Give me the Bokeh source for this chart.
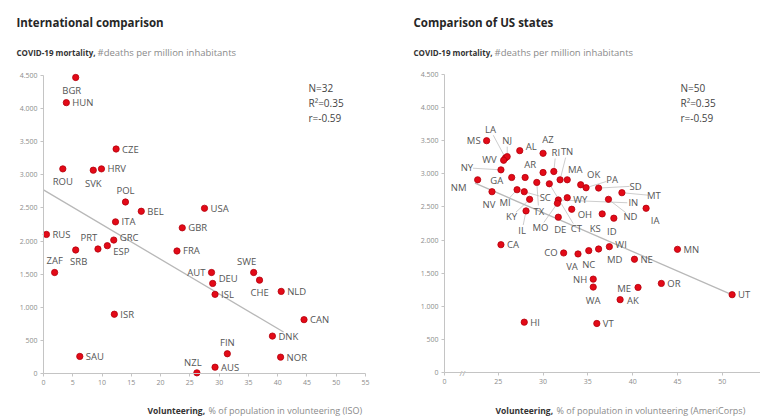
import numpy as np
from bokeh.plotting import figure
from bokeh.models import ColumnDataSource, Range1d, FixedTicker, Label, LinearAxis
from bokeh.layouts import row
from bokeh.embed import file_html
from bokeh.resources import INLINE
from bokeh.core.properties import value

# ---------------- International comparison ----------------
intl_codes = ["BGR", "HUN", "CZE", "ROU", "SVK", "HRV", "POL", "BEL", "ITA", "GBR",
              "RUS", "USA", "PRT", "SRB", "ESP", "GRC", "ZAF", "ISR", "SAU", "FRA",
              "NZL", "AUT", "DEU", "ISL", "SWE", "CHE", "NLD", "CAN", "DNK", "FIN",
              "NOR", "AUS"]
intl_volunteering = [5.5, 3.9, 12.4, 3.3, 8.5, 9.9, 14.0, 16.7, 12.3, 23.7,
                     0.5, 27.5, 9.3, 5.5, 10.9, 12.0, 1.9, 12.1, 6.2, 22.8,
                     26.2, 28.7, 28.9, 29.3, 35.9, 36.9, 40.6, 44.5, 39.1, 31.4,
                     40.5, 29.3]
intl_mortality = [4470, 4090, 3390, 3090, 3070, 3090, 2590, 2450, 2290, 2200,
                  2100, 2495, 1880, 1865, 1930, 2015, 1525, 895, 258, 1850,
                  10, 1525, 1360, 1195, 1525, 1410, 1240, 813, 565, 298,
                  247, 95]
intl_stats = ["N=32", "R²=0.35", "r=-0.59"]
intl_trend_x = [0, 41]
intl_trend_y = [2772, 626]
intl_x_ticks = [0, 5, 10, 15, 20, 25, 30, 35, 40, 45, 50, 55]
intl_x_tick_labels = ["0", "5", "10", "15", "20", "25", "30", "35", "40", "45", "50", "55"]

# ---------------- US states ----------------
us_codes = ["MS", "LA", "NJ", "WV", "AL", "AZ", "NY", "NM", "GA", "AR",
            "FL", "RI", "TN", "MA", "TX", "CT", "NV", "MI", "SC", "KY",
            "IL", "IN", "MO", "WY", "OH", "DE", "OK", "PA", "SD", "ND",
            "MT", "KS", "ID", "IA", "CA", "CO", "VA", "NC", "MD", "WI",
            "NE", "MN", "NH", "WA", "ME", "AK", "OR", "UT", "VT", "HI"]
us_volunteering = [23.7, 25.8, 26.0, 25.6, 27.4, 30.0, 25.3, 22.7, 26.5, 28.0,
                   30.0, 31.2, 31.9, 32.7, 29.3, 30.7, 24.3, 27.1, 27.9, 28.5,
                   28.1, 31.7, 31.6, 32.7, 33.2, 31.7, 34.2, 34.8, 36.2, 37.3,
                   38.8, 36.6, 37.9, 41.5, 25.3, 32.3, 33.9, 35.1, 36.2, 37.4,
                   40.2, 45.0, 35.6, 35.6, 40.6, 38.6, 43.2, 51.1, 36.0, 27.9]
us_mortality = [3500, 3240, 3260, 3205, 3350, 3310, 3060, 2910, 2945, 2945,
                3020, 3035, 2910, 2910, 2870, 2850, 2730, 2760, 2730, 2615,
                2440, 2605, 2555, 2640, 2465, 2345, 2835, 2790, 2785, 2615,
                2715, 2395, 2330, 2480, 1930, 1805, 1790, 1840, 1865, 1900,
                1710, 1860, 1410, 1290, 1285, 1100, 1345, 1175, 740, 760]
us_stats = ["N=50", "R²=0.35", "r=-0.59"]
us_trend_x = [22.4, 50.8]
us_trend_y = [2860, 1192]
us_x_ticks = [19, 25, 30, 35, 40, 45, 50, 55]
us_x_tick_labels = ["0", "25", "30", "35", "40", "45", "50", "55"]
us_axis_break_x = 21.0

y_ticks = [0, 500, 1000, 1500, 2000, 2500, 3000, 3500, 4000, 4500]
y_tick_labels = ["0", "500", "1.000", "1.500", "2.000", "2.500", "3.000", "3.500", "4.000", "4.500"]

# ---------------- label layout (screen px: align, dx, dy(down), leader) ----------------
intl_label_pos = {
    "BGR": ("c", -4, 13), "HUN": ("l", 6, 0), "CZE": ("l", 6, 0), "ROU": ("c", 0, 13),
    "SVK": ("c", 0, 13), "HRV": ("l", 6, 0), "POL": ("c", 0, -11), "BEL": ("l", 6, 0),
    "ITA": ("l", 6, 0), "GBR": ("l", 6, 0), "RUS": ("l", 6, 0), "USA": ("l", 6, 0),
    "PRT": ("c", -9, -12), "SRB": ("c", 3, 12), "ESP": ("l", 6, 6), "GRC": ("l", 6, -3),
    "ZAF": ("c", 0, -12), "ISR": ("l", 6, 0), "SAU": ("l", 6, 0), "FRA": ("l", 6, 0),
    "NZL": ("c", -4, -10), "AUT": ("r", -6, 0), "DEU": ("l", 6, -5), "ISL": ("l", 6, 0),
    "SWE": ("c", -7, -11), "CHE": ("c", 0, 12), "NLD": ("l", 6, 0), "CAN": ("l", 6, 0),
    "DNK": ("l", 6, 0), "FIN": ("c", 0, -11), "NOR": ("l", 6, 0), "AUS": ("l", 6, 0),
}
us_label_pos = {
    "MS": ("r", -6, 0), "LA": ("c", -15, -28, True), "NJ": ("c", 0, -16, True),
    "WV": ("r", -7, -1), "AL": ("l", 6, -4), "AZ": ("c", 5, -14),
    "NY": ("c", -34, -2, True), "NM": ("c", -19, 8), "GA": ("c", -15, 3),
    "AR": ("c", 5, -13), "RI": ("c", 2, -19, True), "TN": ("c", 7, -28, True),
    "MA": ("c", 8, -10), "TX": ("c", 2, 29, True), "CT": ("c", 27, 45, True),
    "NV": ("c", -3, 13), "MI": ("c", -12, 13, True), "SC": ("c", 21, 6, True),
    "KY": ("c", -18, 17, True), "IL": ("c", -4, 20, True), "IN": ("c", 75, 3, True),
    "MO": ("c", -17, 24, True), "WY": ("l", 6, 2), "OH": ("l", 6, 5),
    "DE": ("c", 2, 12), "OK": ("c", 13, -10), "PA": ("c", 26, -8, True),
    "SD": ("c", 37, -2, True), "ND": ("c", 22, 17, True), "MT": ("c", 32, 3, True),
    "KS": ("c", -7, 15), "ID": ("c", -2, 13), "IA": ("c", 9, 12),
    "CA": ("l", 6, 0), "CO": ("r", -6, 0), "VA": ("c", -6, 13), "NC": ("c", 0, 14),
    "MD": ("c", 16, 11), "WI": ("l", 6, -2), "NE": ("l", 6, 0), "MN": ("l", 6, 0),
    "NH": ("r", -6, 0), "WA": ("c", 0, 13), "ME": ("r", -7, 1), "AK": ("l", 7, 1),
    "OR": ("l", 6, 0), "UT": ("l", 6, 0), "VT": ("l", 6, 0), "HI": ("l", 6, 0),
}

FONT = "Open Sans"
RED = "#e30a17"
DOT_LINE = "#b4000c"
LABEL_C = "#555555"
AXIS_C = "#c4c4c4"
TICK_C = "#8c8c8c"
FIG_W, FIG_H = 380, 416
SY = 298.0 / 4500.0   # px per death/million


def make_panel(codes, xv, yv, label_pos, sx, x_axis_val, axis_px, y0_px, xt, xtl, x_bounds,
               title, tx, sub_gap, xt_px, xt_gap, xt_rest, stats, stats_px,
               trend_x, trend_y, axis_break=None):
    x0 = x_axis_val - axis_px / sx
    x1 = x0 + FIG_W / sx
    y1 = y0_px / SY
    y0 = y1 - FIG_H / SY
    p = figure(frame_width=FIG_W, frame_height=FIG_H, x_range=Range1d(x0, x1),
               y_range=Range1d(y0, y1), output_backend="svg", toolbar_location=None,
               x_axis_location=None, y_axis_location=None,
               min_border_left=0, min_border_right=0, min_border_top=0, min_border_bottom=0)
    p.outline_line_color = None
    p.grid.visible = False
    p.background_fill_color = "white"
    p.border_fill_color = "white"

    xaxis = LinearAxis(fixed_location=0, ticker=FixedTicker(ticks=xt), bounds=x_bounds)
    yaxis = LinearAxis(fixed_location=x_axis_val, ticker=FixedTicker(ticks=y_ticks),
                       bounds=(0, 4500))
    xaxis.major_label_overrides = {t: l for t, l in zip(xt, xtl)}
    yaxis.major_label_overrides = {t: l for t, l in zip(y_ticks, y_tick_labels)}
    for ax in (xaxis, yaxis):
        ax.axis_line_color = AXIS_C
        ax.major_tick_line_color = AXIS_C
        ax.minor_tick_line_color = None
        ax.major_tick_out = 3
        ax.major_tick_in = 0
        ax.major_label_text_font = FONT
        ax.major_label_text_font_size = "7px"
        ax.major_label_text_color = TICK_C
        ax.major_label_standoff = 3
    p.add_layout(xaxis, "below")
    p.add_layout(yaxis, "left")

    def px2data(px, py):
        return x0 + px / sx, y1 - py / SY

    # leader lines
    lx0, ly0, lx1, ly1 = [], [], [], []
    groups = {"l": ([], [], [], [], []), "r": ([], [], [], [], []), "c": ([], [], [], [], [])}
    for c, x, y in zip(codes, xv, yv):
        spec = label_pos.get(c)
        if spec is None:
            continue
        al, dx, dy = spec[0], spec[1], spec[2]
        g = groups[al]
        g[0].append(x); g[1].append(y); g[2].append(c); g[3].append(dx); g[4].append(dy)
        if len(spec) > 3 and spec[3]:
            L = float(np.hypot(dx, dy))
            s0, s1 = 3.0 / L, max(0.0, 1 - 6.0 / L)
            lx0.append(x + dx * s0 / sx); ly0.append(y - dy * s0 / SY)
            lx1.append(x + dx * s1 / sx); ly1.append(y - dy * s1 / SY)
    if lx0:
        p.segment(x0=lx0, y0=ly0, x1=lx1, y1=ly1, line_color="#b8b8b8", line_width=0.7)

    p.line(trend_x, trend_y, line_color="#b8b8b8", line_width=1.3)

    src = ColumnDataSource(dict(x=xv, y=yv, code=codes))
    p.scatter("x", "y", source=src, size=6.3, fill_color=RED, line_color=DOT_LINE,
              line_width=0.8)

    align_map = {"l": "left", "r": "right", "c": "center"}
    for al, g in groups.items():
        if not g[0]:
            continue
        s = ColumnDataSource(dict(x=g[0], y=g[1], t=g[2], dx=g[3], dy=g[4]))
        p.text("x", "y", text="t", source=s, x_offset="dx", y_offset="dy",
               text_align=align_map[al], text_baseline="middle",
               text_font=value(FONT), text_font_size="9.5px", text_color=LABEL_C)

    if axis_break is not None:
        p.text(x=[axis_break], y=[0], text=["//"], text_align="center",
               text_baseline="middle", text_font=value(FONT), text_font_size="8px",
               text_color="#a0a0a0")

    def add_text(px, py, text, size, color, bold=False):
        xd, yd = px2data(px, py)
        p.add_layout(Label(x=xd, y=yd, text=text, text_font=FONT, text_font_size=size,
                           text_font_style="bold" if bold else "normal",
                           text_color=color, text_baseline="middle", text_align="left"))

    add_text(tx, 22, title, "11.5px", "#262626", True)
    add_text(tx, 52, "COVID-19 mortality,", "8px", "#333333", True)
    add_text(tx + sub_gap, 52, "#deaths per million inhabitants", "9.5px", "#8a8a8a")
    for i, st in enumerate(stats):
        add_text(stats_px, 87 + 15 * i, st, "10px", "#444444")
    add_text(xt_px, 410, "Volunteering,", "8.5px", "#333333", True)
    add_text(xt_px + xt_gap, 410, xt_rest, "9px", "#8a8a8a")
    return p


p1 = make_panel(intl_codes, intl_volunteering, intl_mortality, intl_label_pos,
                322.0 / 55.0, 0, 43, 373, intl_x_ticks, intl_x_tick_labels, (0, 55),
                "International comparison", 16, 81, 147, 61,
                "% of population in volunteering (ISO)",
                intl_stats, 308, intl_trend_x, intl_trend_y)
p2 = make_panel(us_codes, us_volunteering, us_mortality, us_label_pos,
                8.96, 19, 64, 372, us_x_ticks, us_x_tick_labels, (19, 55),
                "Comparison of US states", 33, 81, 115, 61,
                "% of population in volunteering (AmeriCorps)",
                us_stats, 300, us_trend_x, us_trend_y, axis_break=us_axis_break_x)

layout = row(p1, p2)
open("out.html", "w").write(file_html(layout, INLINE))
